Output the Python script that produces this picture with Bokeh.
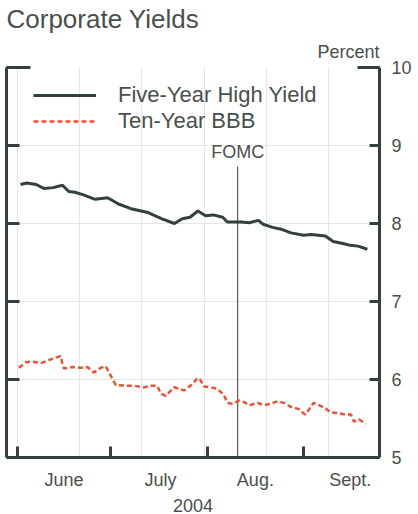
from bokeh.plotting import figure
from bokeh.models import (Range1d, LinearAxis, FixedTicker, Label, Legend, LegendItem, Title)
from bokeh.embed import file_html
from bokeh.resources import INLINE

# ---- data ----
# x = days since June 1, 2004
hy_days = [1, 3, 6, 8.5, 11.5, 14.5, 16.5, 18.5, 21, 25,
           29, 32.5, 36.5, 42, 46.5, 50.5, 53, 55.5, 58, 60.5,
           63, 66, 67.5, 72, 74.5, 77.5, 79, 82, 84.5, 88,
           92, 94.5, 99, 101.5, 105, 107, 109.5, 112.5]
hy_vals = [8.50, 8.52, 8.50, 8.45, 8.46, 8.49, 8.41, 8.40, 8.37, 8.31,
           8.33, 8.25, 8.19, 8.14, 8.06, 8.00, 8.06, 8.08, 8.16, 8.10,
           8.11, 8.08, 8.02, 8.02, 8.01, 8.04, 7.99, 7.95, 7.93, 7.88,
           7.85, 7.86, 7.84, 7.77, 7.74, 7.72, 7.71, 7.67]

bbb_days = [0.5, 2.7, 4.8, 7.5, 10.2, 12.3, 13.9, 14.5, 15.0, 17.7,
            20.4, 22.5, 24.6, 26.8, 28.4, 30.0, 31.6, 34.8, 37.5, 40.7,
            42.9, 45.0, 46.1, 47.7, 50.4, 53.6, 56.3, 57.9, 58.9, 60.0,
            62.2, 64.3, 66.4, 67.5, 69.1, 71.3, 72.9, 74.5, 77.2, 79.3,
            81.4, 83.6, 85.7, 87.9, 90.5, 92.5, 93.8, 95.2, 97.0, 99.1,
            100.5, 102.9, 105.6, 107.2, 108.2, 109.8, 112.0]
bbb_vals = [6.15, 6.22, 6.23, 6.21, 6.25, 6.28, 6.30, 6.20, 6.14, 6.16,
            6.15, 6.16, 6.09, 6.15, 6.17, 6.05, 5.93, 5.92, 5.92, 5.90,
            5.92, 5.92, 5.82, 5.79, 5.90, 5.86, 5.94, 6.02, 5.99, 5.91,
            5.90, 5.88, 5.80, 5.70, 5.69, 5.73, 5.71, 5.67, 5.70, 5.67,
            5.69, 5.72, 5.70, 5.65, 5.62, 5.55, 5.62, 5.70, 5.67, 5.63,
            5.58, 5.57, 5.55, 5.55, 5.46, 5.49, 5.43]

month_starts = [0, 30, 61, 92]
month_mids = [15, 46, 76.5, 107]
month_labels = ["June", "July", "Aug.", "Sept."]
y_ticks = [5, 6, 7, 8, 9, 10]
y_top_tick = [10]
fomc_day = 70.8
fomc_label = "FOMC"
series_names = ["Five-Year High Yield", "Ten-Year BBB"]

FONT = "Liberation Sans"
INK = "#33413a"
TXT = "#4a4f4c"
RED = "#f2502f"

p = figure(width=418, height=514, output_backend="svg", toolbar_location=None,
           x_range=Range1d(-3.5, 116.4), y_range=Range1d(5, 10),
           x_axis_location=None, y_axis_location=None,
           min_border_left=6, min_border_right=39, min_border_top=67,
           min_border_bottom=0, background_fill_color="white",
           border_fill_color="white")
p.outline_line_color = None

# main title (outermost)
p.title.text = "Corporate Yields"
p.title.align = "left"
p.title.text_font = FONT
p.title.text_font_size = "26px"
p.title.text_font_style = "normal"
p.title.text_color = TXT
p.title.standoff = 0

# "Percent" unit label, right aligned, closest to the frame
unit_title = Title(text="Percent", align="right", text_font=FONT,
                   text_font_size="18px", text_font_style="normal",
                   text_color=TXT, standoff=12)
p.add_layout(unit_title, "above")

# left axis (ticks only)
left = LinearAxis(ticker=FixedTicker(ticks=y_ticks, minor_ticks=y_top_tick),
                  major_label_text_font_size="0px", major_label_text_color=None,
                  major_label_standoff=0,
                  major_tick_in=13, major_tick_out=0, minor_tick_in=24, minor_tick_out=0,
                  axis_line_width=3, major_tick_line_width=3, minor_tick_line_width=3,
                  axis_line_color=INK, major_tick_line_color=INK, minor_tick_line_color=INK)
p.add_layout(left, "left")

right = LinearAxis(ticker=FixedTicker(ticks=y_ticks, minor_ticks=y_top_tick),
                   major_label_text_font=FONT, major_label_text_font_size="18px",
                   major_label_text_color=TXT, major_label_standoff=12,
                   major_tick_in=10, major_tick_out=0, minor_tick_in=22, minor_tick_out=0,
                   axis_line_width=3, major_tick_line_width=3, minor_tick_line_width=3,
                   axis_line_color=INK, major_tick_line_color=INK, minor_tick_line_color=INK)
p.add_layout(right, "right")

bottom = LinearAxis(ticker=FixedTicker(ticks=month_mids, minor_ticks=month_starts),
                    major_label_overrides={m: l for m, l in zip(month_mids, month_labels)},
                    major_label_text_font=FONT, major_label_text_font_size="18px",
                    major_label_text_color=TXT, major_label_standoff=12,
                    major_tick_in=0, major_tick_out=0, minor_tick_in=11, minor_tick_out=0,
                    axis_line_width=3, minor_tick_line_width=3,
                    axis_line_color=INK, minor_tick_line_color=INK,
                    axis_label="2004", axis_label_text_font=FONT,
                    axis_label_text_font_size="18px", axis_label_text_font_style="normal",
                    axis_label_text_color=TXT, axis_label_standoff=6)
p.add_layout(bottom, "below")

# FOMC marker
p.segment(x0=[fomc_day], y0=[5], x1=[fomc_day], y1=[8.73], line_color="#555b57", line_width=1.2)
p.add_layout(Label(x=fomc_day, y=8.92, text=fomc_label, text_align="center",
                   text_baseline="middle", text_font=FONT, text_font_size="18px",
                   text_color=TXT))

r1 = p.line(hy_days, hy_vals, line_color=INK, line_width=3)
r2 = p.line(bbb_days, bbb_vals, line_color=RED, line_width=2.5, line_dash="5 3")

legend = Legend(items=[LegendItem(label=series_names[0], renderers=[r1]),
                       LegendItem(label=series_names[1], renderers=[r2])],
                location=(27, 323), glyph_width=63, glyph_height=20, label_height=20,
                label_standoff=22, spacing=-4, padding=0, margin=0,
                border_line_color=None, background_fill_alpha=0,
                label_text_font=FONT, label_text_font_size="22px", label_text_color=TXT)
p.add_layout(legend)

open("out.html", "w").write(file_html(p, INLINE))
